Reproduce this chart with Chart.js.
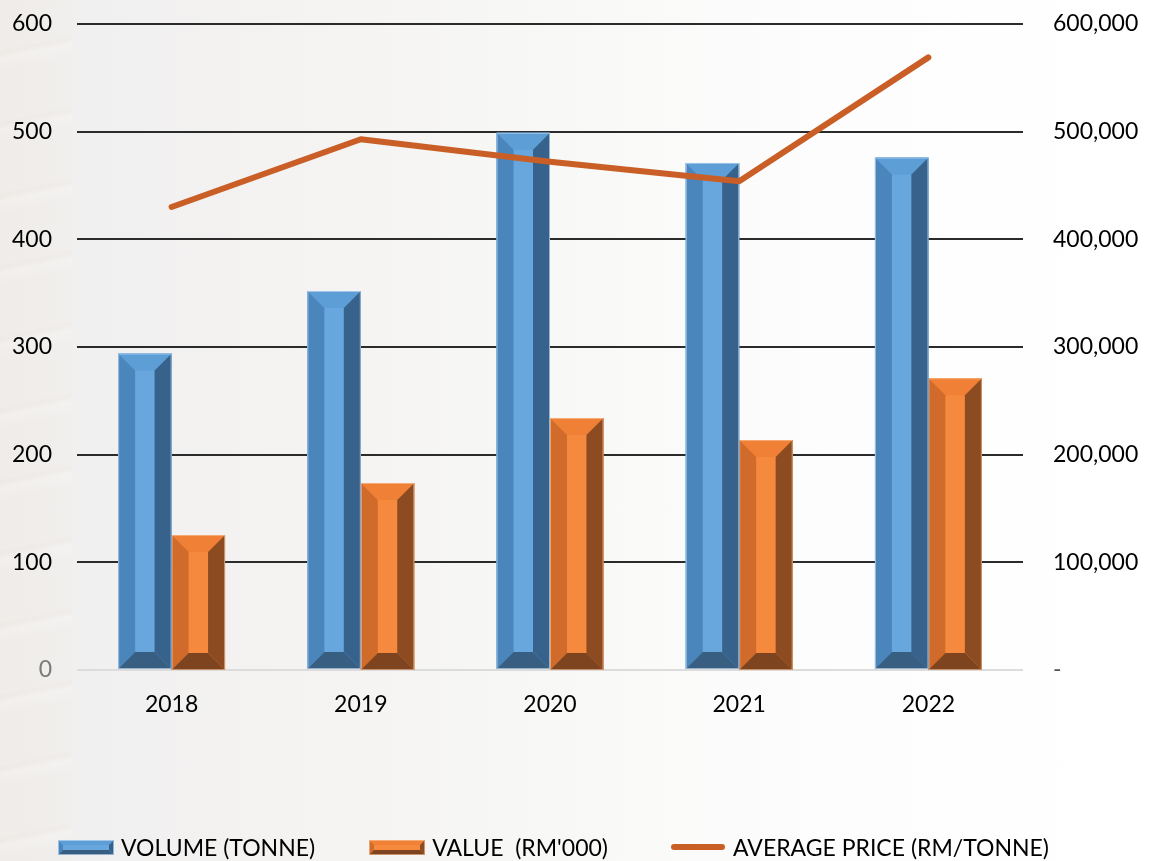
<!DOCTYPE html>
<html>
<head>
<meta charset="utf-8">
<title>Volume, value and average price 2018-2022</title>
<script src="https://cdn.jsdelivr.net/npm/chart.js@4.4.1/dist/chart.umd.min.js"></script>
<style>
  html, body { margin: 0; padding: 0; }
  body {
    width: 1152px; height: 861px; overflow: hidden; position: relative;
    background: linear-gradient(90deg, #efece9 0px, #f1efed 68px, #f1f0f0 76px, #f4f3f2 300px, #f8f8f7 560px, #fdfdfd 820px, #ffffff 1152px);
    font-family: Lato, "Open Sans", sans-serif;
  }
  /* faint stack of sheets behind the left axis */
  #paper {
    position: absolute; left: 0; top: 0; width: 72px; height: 861px;
    background: repeating-linear-gradient(168deg, rgba(255,255,255,0.0) 0px, rgba(255,255,255,0.0) 48px, rgba(228,222,215,0.18) 52px, rgba(255,255,255,0.2) 58px, rgba(255,255,255,0.0) 70px);
  }
  #wrap { position: absolute; left: 0; top: 0; width: 1152px; height: 861px; }
  #legend {
    position: absolute; left: 58px; top: 832px; height: 30px;
    display: flex; align-items: center; font-size: 23px; color: #000; white-space: pre;
  }
  #legend .item { display: flex; align-items: center; margin-right: 54px; }
  #legend .item:nth-child(2) { margin-right: 62px; }
  #legend canvas { margin-right: 7px; }
</style>
</head>
<body>
<div id="paper"></div>
<div id="wrap"><canvas id="grafico" width="1152" height="861"></canvas></div>
<div id="legend"></div>
<script>
// dados 2018-2022
const anos = ['2018', '2019', '2020', '2021', '2022'];
const volumeTonne = [294, 352, 499, 471, 476];
const valueRM000 = [125400, 173700, 234000, 213600, 271000];
const averagePrice = [430000, 493000, 472000, 454000, 569000];

// cores das faces chanfradas: topo, esquerda, centro, direita, base
const bevelShades = {
  0: { top: '#5e9ed7', left: '#4a86bc', center: '#67a7dd', right: '#36628c', bottom: '#385e82', edge: 'rgba(190,215,240,0.7)' },
  1: { top: '#f08035', left: '#d06b2b', center: '#f58a3e', right: '#8d4b22', bottom: '#7d441f', edge: 'rgba(250,200,160,0.6)' }
};
const corLinha = '#c95f26';
const fonteEixo = { family: 'Lato', size: 23 };

function poly(ctx, pts, color) {
  ctx.beginPath();
  ctx.moveTo(pts[0][0], pts[0][1]);
  for (let i = 1; i < pts.length; i++) ctx.lineTo(pts[i][0], pts[i][1]);
  ctx.closePath();
  ctx.fillStyle = color;
  ctx.fill();
}

function drawBevel(ctx, L, T, R, B, b, s) {
  poly(ctx, [[L, T], [R, T], [R, B], [L, B]], s.center);
  poly(ctx, [[L, T], [R, T], [R - b, T + b], [L + b, T + b]], s.top);
  poly(ctx, [[L, T], [L + b, T + b], [L + b, B - b], [L, B]], s.left);
  poly(ctx, [[R, T], [R, B], [R - b, B - b], [R - b, T + b]], s.right);
  poly(ctx, [[L, B], [L + b, B - b], [R - b, B - b], [R, B]], s.bottom);
  ctx.strokeStyle = s.edge;
  ctx.lineWidth = 1;
  ctx.strokeRect(L + 0.5, T + 0.5, R - L - 1, B - T - 1);
}

// desenha o efeito 3D por cima de cada barra, usando a geometria calculada pelo Chart.js
const bevelPlugin = {
  id: 'bevel',
  afterDatasetDraw(chart, args) {
    if (args.meta.type !== 'bar') return;
    const s = bevelShades[args.index];
    const ctx = chart.ctx;
    ctx.save();
    args.meta.data.forEach(function (el) {
      const p = el.getProps(['x', 'y', 'base', 'width'], true);
      const L = p.x - p.width / 2, R = p.x + p.width / 2;
      const T = Math.min(p.y, p.base), B = Math.max(p.y, p.base);
      const b = Math.min(17, p.width / 3, (B - T) / 2);
      drawBevel(ctx, L, T, R, B, b, s);
    });
    ctx.restore();
  }
};

function criarLegenda(chart) {
  const box = document.getElementById('legend');
  box.innerHTML = '';
  chart.data.datasets.forEach(function (ds, i) {
    const item = document.createElement('div');
    item.className = 'item';
    const icon = document.createElement('canvas');
    const c = icon.getContext('2d');
    if (ds.type === 'line') {
      icon.width = 56; icon.height = 14;
      c.strokeStyle = ds.borderColor;
      c.lineWidth = 6;
      c.lineCap = 'round';
      c.beginPath(); c.moveTo(4, 7); c.lineTo(52, 7); c.stroke();
    } else {
      icon.width = 56; icon.height = 15;
      drawBevel(c, 0, 0, 56, 15, 5, bevelShades[i]);
    }
    const txt = document.createElement('span');
    txt.textContent = ds.label;
    item.appendChild(icon);
    item.appendChild(txt);
    box.appendChild(item);
  });
}

// eixo y com largura fixa e sem a folga extra que o Chart.js reserva acima/abaixo
function fixarEixoY(largura) {
  return function (scale) {
    scale.width = largura;
    scale.paddingTop = 0;
    scale.paddingBottom = 0;
  };
}

function criarGrafico() {
  const data = {
    labels: anos,
    datasets: [{
      type: 'bar',
      label: 'VOLUME (TONNE)',
      data: volumeTonne,
      yAxisID: 'y',
      backgroundColor: bevelShades[0].center,
      borderWidth: 0,
      order: 2
    }, {
      type: 'bar',
      label: 'VALUE  (RM\'000)',
      data: valueRM000,
      yAxisID: 'y1',
      backgroundColor: bevelShades[1].center,
      borderWidth: 0,
      order: 2
    }, {
      type: 'line',
      label: 'AVERAGE PRICE (RM/TONNE)',
      data: averagePrice,
      yAxisID: 'y1',
      borderColor: corLinha,
      backgroundColor: corLinha,
      borderWidth: 6,
      borderCapStyle: 'round',
      borderJoinStyle: 'round',
      pointRadius: 0,
      tension: 0,
      order: 1
    }]
  };

  const config = {
    data: data,
    plugins: [bevelPlugin],
    options: {
      responsive: false,
      animation: false,
      devicePixelRatio: 1,
      layout: { padding: { top: 24, left: 0, right: 0, bottom: 0 } },
      datasets: { bar: { categoryPercentage: 0.565, barPercentage: 1.0 } },
      plugins: { legend: { display: false }, tooltip: { enabled: false } },
      scales: {
        x: {
          grid: { display: false },
          border: { display: false },
          ticks: { color: '#000', font: fonteEixo, padding: 13 },
          afterFit: function (scale) { scale.height = 191; }
        },
        y: {
          position: 'left',
          min: 0, max: 600,
          border: { display: false },
          grid: {
            drawTicks: false,
            lineWidth: 2,
            color: function (c) { return c.tick.value === 0 ? '#dcdcdc' : '#2b2b2b'; }
          },
          ticks: {
            stepSize: 100,
            padding: 25,
            font: fonteEixo,
            color: function (c) { return c.tick.value === 0 ? '#7a7a7a' : '#000'; }
          },
          afterFit: fixarEixoY(77)
        },
        y1: {
          position: 'right',
          min: 0, max: 600000,
          border: { display: false },
          grid: { display: false, drawTicks: false },
          ticks: {
            stepSize: 100000,
            padding: 30,
            font: fonteEixo,
            color: function (c) { return c.tick.value === 0 ? '#555' : '#000'; },
            callback: function (v) { return v === 0 ? '-' : v.toLocaleString('en-US'); }
          },
          afterFit: fixarEixoY(129)
        }
      }
    }
  };

  const grafico = new Chart(document.getElementById('grafico'), config);
  criarLegenda(grafico);
}

document.fonts.load('23px Lato').then(criarGrafico, criarGrafico);
</script>
</body>
</html>
